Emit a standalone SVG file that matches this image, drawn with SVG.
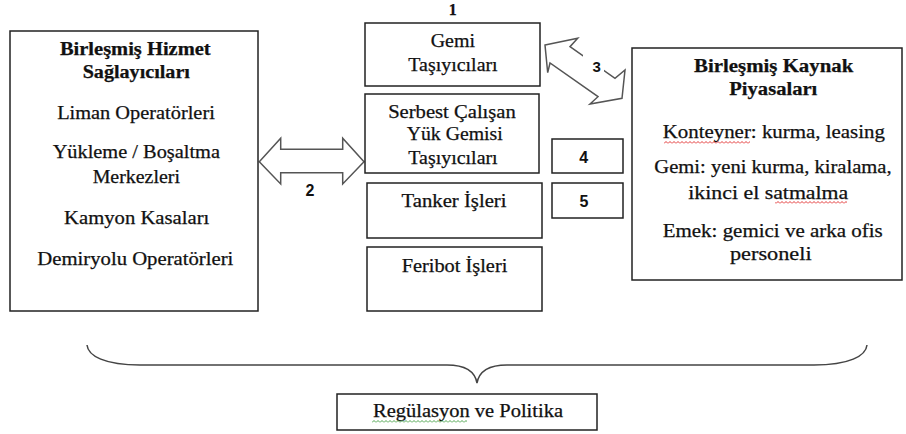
<svg xmlns="http://www.w3.org/2000/svg" width="906" height="434" viewBox="0 0 906 434">
<style>
.box{fill:#fff;stroke:#222;stroke-width:1.5}
.t{font-family:'Liberation Serif',serif;font-size:18px;fill:#111;text-anchor:middle;stroke:#111;stroke-width:0.25}
.b{font-weight:bold}
.num{font-family:'Liberation Sans',sans-serif;font-size:16px;font-weight:bold;fill:#111;text-anchor:middle}
.arr{fill:#fff;stroke:#555;stroke-width:1.5;stroke-linejoin:miter}
.brace{fill:none;stroke:#444;stroke-width:1.5}
</style>
<defs>
<pattern id="wavyRed" width="4" height="3" patternUnits="userSpaceOnUse"><path d="M0,2.5 L2,0.5 L4,2.5" fill="none" stroke="#e02020" stroke-width="0.9"/></pattern>
<pattern id="wavyGreen" width="4" height="3" patternUnits="userSpaceOnUse"><path d="M0,2.5 L2,0.5 L4,2.5" fill="none" stroke="#3a9a3a" stroke-width="0.9"/></pattern>
</defs>
<rect width="906" height="434" fill="#fff"/>

<g id="connectors">
<polygon id="arrow2" class="arr" points="259.3,161.7 280.7,138.3 280.7,149.3 342.7,149.3 342.7,138.3 364,161.7 342.7,184 342.7,172.7 280.7,172.7 280.7,184"/>
<polygon id="arrow3" class="arr" points="545,45 577.7,38.3 570,46.7 615,78.3 625,70 622,98.3 590,104 598,96.7 550,63 547.7,72.7"/>
<rect x="583" y="55" width="21" height="21" fill="#fff"/>
<text class="num" x="310" y="196">2</text>
<text class="num" x="596.7" y="71.5" style="font-size:15px">3</text>
<path id="brace" class="brace" d="M87,345 C88,356 105,365 140,365 L447,365 C466,365 475,372 477,383 C479,372 488,365 507,365 L814,365 C849,365 866,356 867,345"/>
</g>

<g id="hizmet">
<rect class="box" x="10" y="31" width="248" height="280"/>
<text class="t b" x="135.3" y="54.5" textLength="150.7" lengthAdjust="spacingAndGlyphs">Birleşmiş Hizmet</text>
<text class="t b" x="136.3" y="77.5" textLength="107.3" lengthAdjust="spacingAndGlyphs">Sağlayıcıları</text>
<text class="t" x="136" y="119.3" textLength="157.7" lengthAdjust="spacingAndGlyphs">Liman Operatörleri</text>
<text class="t" x="136.3" y="158.3" textLength="167.3" lengthAdjust="spacingAndGlyphs">Yükleme / Boşaltma</text>
<text class="t" x="136.3" y="183.3" textLength="87.3" lengthAdjust="spacingAndGlyphs">Merkezleri</text>
<text class="t" x="136.7" y="224" textLength="145.3" lengthAdjust="spacingAndGlyphs">Kamyon Kasaları</text>
<text class="t" x="135.3" y="265" textLength="196" lengthAdjust="spacingAndGlyphs">Demiryolu Operatörleri</text>
</g>

<g id="gemi">
<text x="452.7" y="15" class="t b" style="font-size:16px">1</text>
<rect class="box" x="365" y="23" width="175" height="63"/>
<text class="t" x="452.8" y="47.3" textLength="44.3" lengthAdjust="spacingAndGlyphs">Gemi</text>
<text class="t" x="453" y="70.7" textLength="89.3" lengthAdjust="spacingAndGlyphs">Taşıyıcıları</text>
</g>

<g id="serbest">
<rect class="box" x="365" y="94" width="174" height="79"/>
<text class="t" x="452" y="118.3" textLength="127.7" lengthAdjust="spacingAndGlyphs">Serbest Çalışan</text>
<text class="t" x="454.7" y="140" textLength="96" lengthAdjust="spacingAndGlyphs">Yük Gemisi</text>
<text class="t" x="453" y="164.3" textLength="89.3" lengthAdjust="spacingAndGlyphs">Taşıyıcıları</text>
</g>

<g id="tanker">
<rect class="box" x="367" y="183" width="175" height="55"/>
<text class="t" x="454" y="207.3" textLength="105" lengthAdjust="spacingAndGlyphs">Tanker İşleri</text>
</g>

<g id="feribot">
<rect class="box" x="367" y="247" width="175" height="64"/>
<text class="t" x="454.5" y="271.7" textLength="105.7" lengthAdjust="spacingAndGlyphs">Feribot İşleri</text>
</g>

<g id="box4">
<rect class="box" x="552" y="139" width="71" height="34"/>
<text class="num" x="583.8" y="163.3">4</text>
</g>

<g id="box5">
<rect class="box" x="552" y="183" width="71" height="35"/>
<text class="num" x="584" y="207.3">5</text>
</g>

<g id="kaynak">
<rect class="box" x="632" y="48" width="270" height="232"/>
<text class="t b" x="773.7" y="71.7" textLength="159.3" lengthAdjust="spacingAndGlyphs">Birleşmiş Kaynak</text>
<text class="t b" x="773.3" y="94.5" textLength="88" lengthAdjust="spacingAndGlyphs">Piyasaları</text>
<text class="t" x="773.8" y="138.3" textLength="222.3" lengthAdjust="spacingAndGlyphs">Konteyner: kurma, leasing</text>
<rect x="664" y="141" width="86" height="3" fill="url(#wavyRed)"/>
<text class="t" x="773" y="172.7" textLength="237.3" lengthAdjust="spacingAndGlyphs">Gemi: yeni kurma, kiralama,</text>
<text class="t" x="768.3" y="199.3" textLength="160" lengthAdjust="spacingAndGlyphs">ikinci el satmalma</text>
<rect x="775" y="201" width="72" height="3" fill="url(#wavyRed)"/>
<text class="t" x="772.7" y="236.7" textLength="220" lengthAdjust="spacingAndGlyphs">Emek: gemici ve arka ofis</text>
<text class="t" x="770.8" y="260" textLength="81.7" lengthAdjust="spacingAndGlyphs">personeli</text>
</g>

<g id="regulasyon">
<rect class="box" x="337" y="394" width="260" height="36"/>
<text class="t" x="468" y="416.7" textLength="190" lengthAdjust="spacingAndGlyphs">Regülasyon ve Politika</text>
<rect x="372" y="420" width="95" height="3" fill="url(#wavyGreen)"/>
</g>
</svg>
